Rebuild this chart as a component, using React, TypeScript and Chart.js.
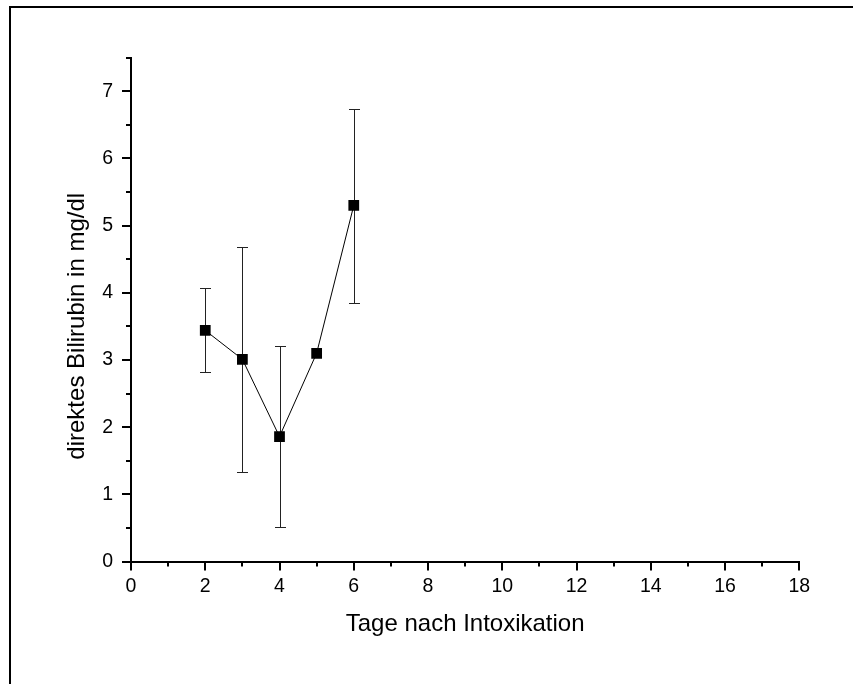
import React, { useEffect, useRef } from "react";
import { Chart, registerables } from "chart.js";

Chart.register(...registerables);

// ---- data ----
const days = [2, 3, 4, 5, 6];
const bilirubinMean = [3.44, 3.01, 1.86, 3.1, 5.3];
const errorLow: (number | null)[] = [2.82, 1.33, 0.52, null, 3.85];
const errorHigh: (number | null)[] = [4.07, 4.68, 3.21, null, 6.74];

const xMajorTicks = [0, 2, 4, 6, 8, 10, 12, 14, 16, 18];
const xMinorTicks = [1, 3, 5, 7, 9, 11, 13, 15, 17];
const yMajorTicks = [0, 1, 2, 3, 4, 5, 6, 7];
const yMinorTicks = [0.5, 1.5, 2.5, 3.5, 4.5, 5.5, 6.5, 7.5];

const xTitle = "Tage nach Intoxikation";
const yTitle = "direktes Bilirubin in mg/dl";

const FONT = "'Liberation Sans', Arial, Helvetica, sans-serif";

const axisTicksPlugin = {
  id: "axisTicks",
  afterDraw(chart: any) {
    const { ctx, chartArea } = chart;
    const xs = chart.scales.x;
    const ys = chart.scales.y;
    ctx.save();
    ctx.strokeStyle = "#000";
    ctx.lineWidth = 2;
    ctx.lineCap = "butt";
    const base = chartArea.bottom;
    const left = chartArea.left;
    const drawX = (vals: number[], len: number) => {
      vals.forEach((v) => {
        const px = Math.round(xs.getPixelForValue(v));
        ctx.beginPath();
        ctx.moveTo(px, base);
        ctx.lineTo(px, base + len);
        ctx.stroke();
      });
    };
    const drawY = (vals: number[], len: number) => {
      vals.forEach((v) => {
        const py = Math.round(ys.getPixelForValue(v));
        ctx.beginPath();
        ctx.moveTo(left, py);
        ctx.lineTo(left - len, py);
        ctx.stroke();
      });
    };
    drawX(xMajorTicks, 9);
    drawX(xMinorTicks, 5);
    drawY(yMajorTicks, 9);
    drawY(yMinorTicks, 5);
    ctx.restore();
  },
};

const errorBarPlugin = {
  id: "errorBars",
  beforeDatasetsDraw(chart: any) {
    const { ctx } = chart;
    const xs = chart.scales.x;
    const ys = chart.scales.y;
    ctx.save();
    ctx.strokeStyle = "#222";
    ctx.lineWidth = 1;
    days.forEach((d, i) => {
      const lo = errorLow[i];
      const hi = errorHigh[i];
      if (lo == null || hi == null) return;
      const px = Math.round(xs.getPixelForValue(d)) + 0.5;
      const pLo = Math.round(ys.getPixelForValue(lo)) + 0.5;
      const pHi = Math.round(ys.getPixelForValue(hi)) + 0.5;
      ctx.beginPath();
      ctx.moveTo(px, pLo);
      ctx.lineTo(px, pHi);
      ctx.moveTo(px - 5.5, pLo);
      ctx.lineTo(px + 5.5, pLo);
      ctx.moveTo(px - 5.5, pHi);
      ctx.lineTo(px + 5.5, pHi);
      ctx.stroke();
    });
    ctx.restore();
  },
};

export default function App() {
  const canvasRef = useRef<HTMLCanvasElement | null>(null);

  useEffect(() => {
    const canvas = canvasRef.current;
    if (!canvas) return;
    const chart = new Chart(canvas, {
      type: "line",
      data: {
        datasets: [
          {
            data: days.map((d, i) => ({ x: d, y: bilirubinMean[i] })),
            borderColor: "#000",
            borderWidth: 1,
            tension: 0,
            fill: false,
            pointStyle: "rect",
            pointRadius: 7.6,
            pointBackgroundColor: "#000",
            pointBorderColor: "#000",
            pointBorderWidth: 0,
          },
        ],
      },
      options: {
        responsive: false,
        animation: false,
        events: [],
        layout: {
          autoPadding: false,
          padding: { left: 0, top: 57.7, right: 53.7, bottom: 0 },
        },
        plugins: {
          legend: { display: false },
          tooltip: { enabled: false },
        },
        scales: {
          x: {
            type: "linear",
            min: 0,
            max: 18,
            afterBuildTicks: (s: any) => {
              s.ticks = xMajorTicks.map((v) => ({ value: v }));
            },
            afterFit: (s: any) => {
              s.height = 122.5;
            },
            grid: { display: false, drawTicks: false },
            border: { display: true, color: "#000", width: 2 },
            ticks: {
              padding: 13.8,
              color: "#000",
              maxRotation: 0,
              autoSkip: false,
              font: { family: FONT, size: 19.5 },
              callback: (v: any) => String(v),
            },
            title: {
              display: true,
              text: xTitle,
              color: "#000",
              font: { family: FONT, size: 24 },
              padding: { top: 0, bottom: 45.6 },
            },
          },
          y: {
            type: "linear",
            min: 0,
            max: 7.5,
            afterBuildTicks: (s: any) => {
              s.ticks = yMajorTicks.map((v) => ({ value: v }));
            },
            afterFit: (s: any) => {
              s.width = 131;
            },
            grid: { display: false, drawTicks: false },
            border: { display: true, color: "#000", width: 2 },
            ticks: {
              padding: 18,
              color: "#000",
              autoSkip: false,
              font: { family: FONT, size: 19.5 },
              callback: (v: any) => String(v),
            },
            title: {
              display: true,
              text: yTitle + "     ",
              color: "#000",
              font: { family: FONT, size: 24 },
              padding: { top: 62.6, bottom: 0 },
            },
          },
        },
      },
      plugins: [errorBarPlugin, axisTicksPlugin],
    } as any);
    return () => chart.destroy();
  }, []);

  return (
    <div
      style={{
        position: "absolute",
        left: 0,
        top: 0,
        width: 853,
        height: 684,
        overflow: "hidden",
        background: "#fff",
      }}
    >
      <div
        style={{
          position: "absolute",
          left: 9,
          top: 6,
          width: 1000,
          height: 1000,
          borderLeft: "2px solid #000",
          borderTop: "2px solid #000",
        }}
      />
      <canvas
        ref={canvasRef}
        width={853}
        height={684}
        style={{ position: "absolute", left: 0, top: 0, display: "block" }}
      />
    </div>
  );
}
